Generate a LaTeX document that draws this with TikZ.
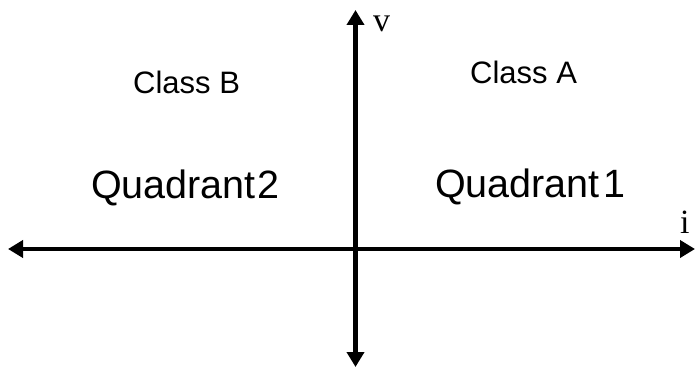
\documentclass[tikz,border=0pt]{standalone}
\usepackage{fontspec}
\setmainfont{Liberation Sans}
\newfontfamily\serifvar{Liberation Serif}
\usetikzlibrary{arrows.meta}
\tikzset{
  axisline/.style={line width=4.5pt, -{Triangle[length=15pt,width=17pt]}},
  classlbl/.style={anchor=base west, inner sep=0pt, font=\fontsize{31}{36}\selectfont},
  quadlbl/.style={anchor=base west, inner sep=0pt, font=\fontsize{39.5}{44}\selectfont},
  axislbl/.style={anchor=base west, inner sep=0pt, font=\serifvar\fontsize{34}{40}\selectfont}
}
\begin{document}
\begin{tikzpicture}[x=1pt,y=-1pt]
\useasboundingbox (0,0) rectangle (696,369);
\coordinate (O) at (355.5,249);
\coordinate (L) at (8,249);
\coordinate (R) at (695,249);
\coordinate (T) at (355.5,10);
\coordinate (B) at (355.5,367);
\draw[axisline] (O) -- (L);
\draw[axisline] (O) -- (R);
\draw[axisline] (O) -- (T);
\draw[axisline] (O) -- (B);
\node[axislbl] (v) at (373,32) {v};
\node[axislbl] (i) at (680,233) {i};
\node[classlbl] (cb) at (133,93) {Class B};
\node[classlbl] (ca) at (470,83) {Class A};
\node[quadlbl] (q2) at (91,198) {Quadrant\hspace{2pt}2};
\node[quadlbl] (q1) at (435,197) {Quadrant\hspace{4pt}1};
\end{tikzpicture}
\end{document}
